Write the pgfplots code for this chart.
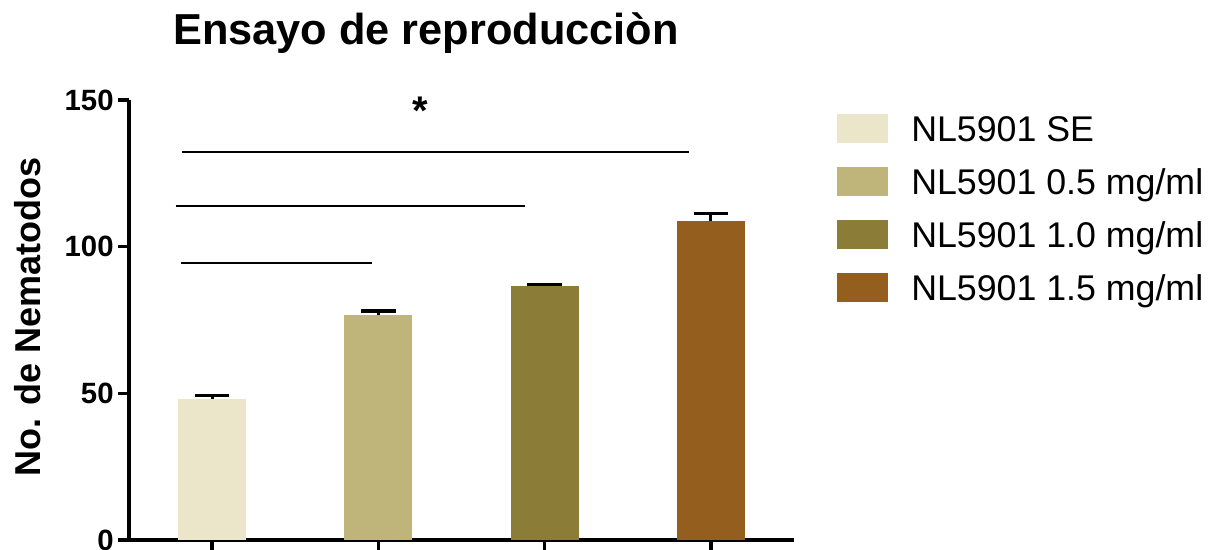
\documentclass[border=0pt]{standalone}
\usepackage{fontspec}
\setmainfont{Liberation Sans}
\usepackage{pgfplots}
\pgfplotsset{compat=1.18}

\definecolor{cSE}{RGB}{235,229,201}
\definecolor{cA}{RGB}{191,181,122}
\definecolor{cB}{RGB}{139,124,56}
\definecolor{cC}{RGB}{147,94,30}

\begin{document}
\begin{tikzpicture}
\path[use as bounding box] (-96.75pt,-7.5pt) rectangle (819.75pt,405pt);
\begin{axis}[
  scale only axis, width=498.75pt, height=330pt,
  at={(0pt,0pt)}, anchor=south west,
  xmin=-0.5, xmax=3.5, ymin=0, ymax=150,
  axis lines*=left,
  axis line style={line width=2.6pt, black},
  tick pos=left,
  tick align=outside,
  major tick length=8pt,
  tick style={line width=2.6pt, black},
  xtick={0,1,2,3}, xticklabels={},
  ytick={0,50,100,150},
  /pgf/number format/assume math mode=true,
  yticklabel style={font=\fontsize{22}{26}\selectfont\bfseries},
  ylabel={No. de Nematodos},
  ylabel style={at={(rel axis cs:-0.152,0.507)}, anchor=center, rotate=0,
    font=\fontsize{27}{32}\selectfont\bfseries},
  ybar, bar width=0.41, bar shift=0pt,
  clip=false,
  legend style={at={(1.0647,0.968)}, anchor=north west, draw=none, fill=none,
    inner sep=0pt, row sep=13.25pt, font=\fontsize{26.8}{31}\selectfont,
    nodes={inner sep=0pt, text height=19pt, text depth=6pt}},
  legend cell align=left,
  legend image code/.code={
    \fill[#1,draw=none] (0pt,-7.8pt) rectangle (38.25pt,13.95pt);
    \path[draw=none,fill=none] (0pt,0pt) -- (55.5pt,0pt);},
  every error bar/.style={line width=2.2pt, black},
]
\addplot[fill=cSE, draw=none, error bars/.cd, y dir=plus, y explicit,
  error mark options={rotate=90, mark size=13pt, line width=2.6pt, black}]
  coordinates {(0,48.0) +- (0,1.2)};
\addplot[fill=cA, draw=none, error bars/.cd, y dir=plus, y explicit,
  error mark options={rotate=90, mark size=13pt, line width=2.6pt, black}]
  coordinates {(1,76.6) +- (0,1.5)};
\addplot[fill=cB, draw=none, error bars/.cd, y dir=plus, y explicit,
  error mark options={rotate=90, mark size=13pt, line width=2.6pt, black}]
  coordinates {(2,86.5) +- (0,0.6)};
\addplot[fill=cC, draw=none, error bars/.cd, y dir=plus, y explicit,
  error mark options={rotate=90, mark size=13pt, line width=2.6pt, black}]
  coordinates {(3,108.8) +- (0,2.5)};
\legend{NL5901 SE, NL5901 0.5 mg/ml, NL5901 1.0 mg/ml, NL5901 1.5 mg/ml}

% comparison bars
\addplot[sharp plot, black, line width=1.5pt, forget plot] coordinates {(-0.19,94.3) (0.96,94.3)};
\addplot[sharp plot, black, line width=1.5pt, forget plot] coordinates {(-0.22,114.0) (1.88,114.0)};
\addplot[sharp plot, black, line width=1.5pt, forget plot] coordinates {(-0.18,132.4) (2.87,132.4)};
\node[font=\fontsize{30}{34}\selectfont\bfseries, anchor=base] at (axis cs:1.25,141.5) {*};

\node[font=\fontsize{32.5}{38}\selectfont\bfseries, anchor=base]
  at (rel axis cs:0.4466,1.125) {Ensayo de reproducciòn};
\end{axis}
\end{tikzpicture}
\end{document}
